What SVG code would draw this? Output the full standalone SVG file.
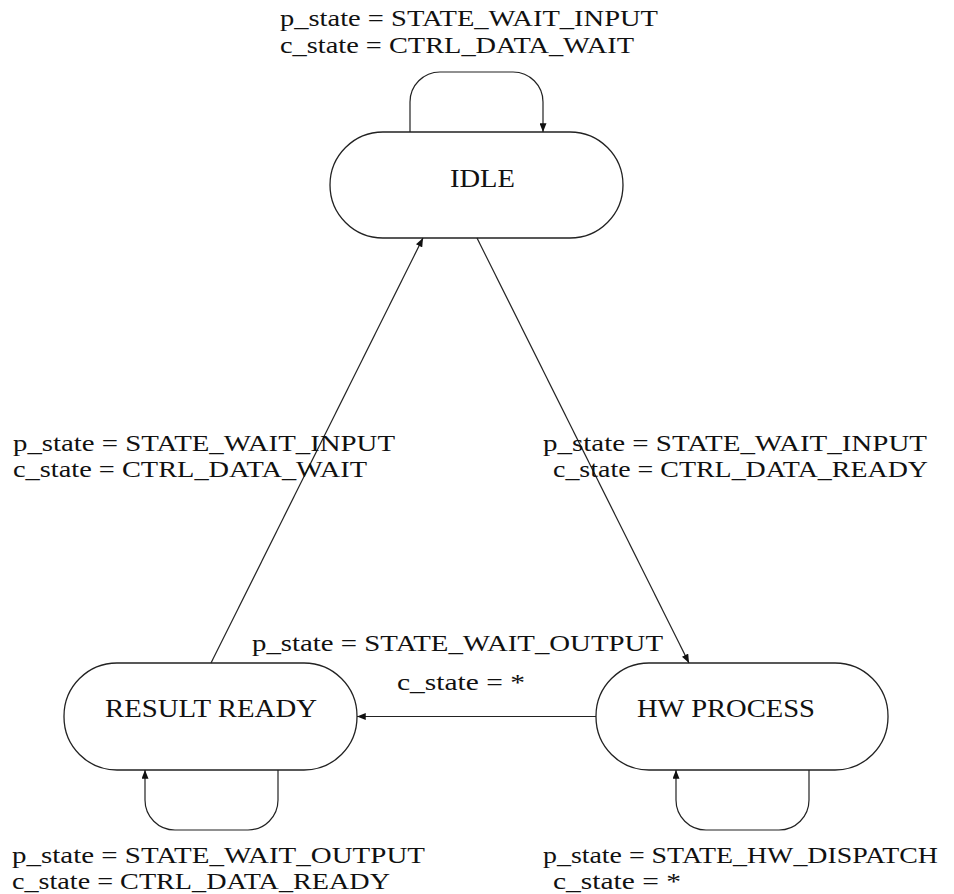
<svg xmlns="http://www.w3.org/2000/svg" width="954" height="894" viewBox="0 0 954 894">
  <defs>
    <marker id="arrow" viewBox="0 0 10 8" refX="10" refY="4" markerWidth="9" markerHeight="7" markerUnits="userSpaceOnUse" orient="auto">
      <path d="M0,0 L10,4 L0,8 Z" fill="#111"/>
    </marker>
    <style>
      .state { fill: #fff; stroke: #222; stroke-width: 1.3; }
      .edge { fill: none; stroke: #222; stroke-width: 1.2; marker-end: url(#arrow); }
      text { font-family: "Liberation Serif", "Times New Roman", serif; font-size: 23px; fill: #111; }
      .name { font-size: 25.5px; }
    </style>
  </defs>
  <rect width="954" height="894" fill="#fff"/>

  <!-- states -->
  <g id="idle">
    <rect class="state" x="330" y="132" width="293" height="106" rx="53" ry="53"/>
    <text class="name" x="450" y="187" textLength="65" lengthAdjust="spacingAndGlyphs">IDLE</text>
  </g>
  <g id="result-ready">
    <rect class="state" x="64" y="663" width="293" height="107" rx="53" ry="53"/>
    <text class="name" x="105" y="717" textLength="212" lengthAdjust="spacingAndGlyphs">RESULT READY</text>
  </g>
  <g id="hw-process">
    <rect class="state" x="596" y="663" width="292" height="107" rx="53" ry="53"/>
    <text class="name" x="637" y="717" textLength="178" lengthAdjust="spacingAndGlyphs">HW PROCESS</text>
  </g>

  <!-- transitions -->
  <g id="connectors">
    <path class="edge" d="M410,132 V102 A30,30 0 0 1 440,72 H513 A30,30 0 0 1 543,102 V132"/>
    <path class="edge" d="M278,770 V800 A30,30 0 0 1 248,830 H175 A30,30 0 0 1 145,800 V770"/>
    <path class="edge" d="M809,770 V800 A30,30 0 0 1 779,830 H706 A30,30 0 0 1 676,800 V770"/>
    <path class="edge" d="M477,238 L689,663"/>
    <path class="edge" d="M211,663 L423,238"/>
    <path class="edge" d="M596,716.5 L357,716.5"/>
  </g>

  <!-- transition labels -->
  <g id="labels">
    <text x="280" y="26" textLength="378" lengthAdjust="spacingAndGlyphs">p_state = STATE_WAIT_INPUT</text>
    <text x="280" y="53" textLength="354" lengthAdjust="spacingAndGlyphs">c_state = CTRL_DATA_WAIT</text>

    <text x="13" y="451" textLength="382" lengthAdjust="spacingAndGlyphs">p_state = STATE_WAIT_INPUT</text>
    <text x="13" y="477" textLength="354" lengthAdjust="spacingAndGlyphs">c_state = CTRL_DATA_WAIT</text>

    <text x="543" y="451" textLength="384" lengthAdjust="spacingAndGlyphs">p_state = STATE_WAIT_INPUT</text>
    <text x="553" y="477" textLength="375" lengthAdjust="spacingAndGlyphs">c_state = CTRL_DATA_READY</text>

    <text x="252" y="651" textLength="411" lengthAdjust="spacingAndGlyphs">p_state = STATE_WAIT_OUTPUT</text>
    <text x="397" y="690" textLength="128" lengthAdjust="spacingAndGlyphs">c_state = *</text>

    <text x="12" y="863" textLength="413" lengthAdjust="spacingAndGlyphs">p_state = STATE_WAIT_OUTPUT</text>
    <text x="12" y="889" textLength="378" lengthAdjust="spacingAndGlyphs">c_state = CTRL_DATA_READY</text>

    <text x="543" y="863" textLength="395" lengthAdjust="spacingAndGlyphs">p_state = STATE_HW_DISPATCH</text>
    <text x="553" y="889" textLength="128" lengthAdjust="spacingAndGlyphs">c_state = *</text>
  </g>
</svg>
